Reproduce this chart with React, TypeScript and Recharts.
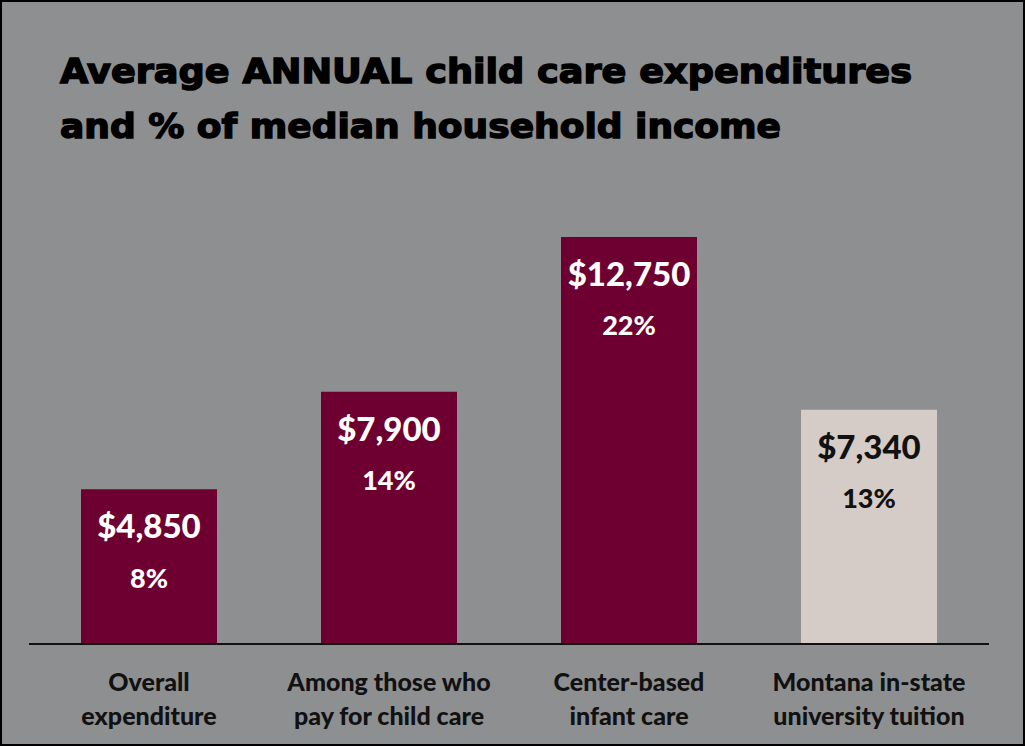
import React from 'react';
import { BarChart, Bar, XAxis, YAxis, Cell, LabelList } from 'recharts';

const categories = [
  ['Overall', 'expenditure'],
  ['Among those who', 'pay for child care'],
  ['Center-based', 'infant care'],
  ['Montana in-state', 'university tuition'],
];
const amounts = [4850, 7900, 12750, 7340];
const amountLabels = ['$4,850', '$7,900', '$12,750', '$7,340'];
const pctLabels = ['8%', '14%', '22%', '13%'];
const titleLines = ['Average ANNUAL child care expenditures', 'and % of median household income'];
const titleWidths = [852, 721];

const MAROON = '#6d0030';
const TUITION = '#d6ccc7';
const BG = '#8e8f91';
const FONT = "Lato, 'Open Sans', sans-serif";

const data = amounts.map((v, i) => ({
  name: categories[i].join(' '),
  idx: i,
  value: v,
}));

const CategoryTick = (props: any) => {
  const { x, payload } = props;
  const lines = categories[payload.index] || [];
  return (
    <g>
      {lines.map((l, i) => (
        <text
          key={i}
          x={x}
          y={681 + i * 34}
          textAnchor="middle"
          dominantBaseline="central"
          fill="#111"
          fontFamily={FONT}
          fontWeight={900}
          fontSize={25}
        >
          {l}
        </text>
      ))}
    </g>
  );
};

const BarLabel = (props: any) => {
  const { x, y, width, index } = props;
  const cx = x + width / 2;
  const color = index === 3 ? '#111' : '#fff';
  return (
    <g>
      <text
        x={cx}
        y={y + 36}
        textAnchor="middle"
        dominantBaseline="central"
        fill={color}
        fontFamily={FONT}
        fontWeight={900}
        fontSize={33}
      >
        {amountLabels[index]}
      </text>
      <text
        x={cx}
        y={y + 88}
        textAnchor="middle"
        dominantBaseline="central"
        fill={color}
        fontFamily={FONT}
        fontWeight={900}
        fontSize={27}
      >
        {pctLabels[index]}
      </text>
    </g>
  );
};

export default function App() {
  return (
    <div
      style={{
        position: 'absolute',
        left: 0,
        top: 0,
        width: 1025,
        height: 746,
        background: BG,
        border: '2px solid #000',
        boxSizing: 'border-box',
      }}
    >
      <svg
        width={1025}
        height={746}
        style={{ position: 'absolute', left: -2, top: -2 }}
      >
        {titleLines.map((t, i) => (
          <text
            key={i}
            x={60}
            y={83 + i * 55}
            fill="#000"
            stroke="#000"
            strokeWidth={1.4}
            fontFamily="'DejaVu Sans', sans-serif"
            fontWeight={700}
            fontSize={33}
            textLength={titleWidths[i]}
            lengthAdjust="spacingAndGlyphs"
          >
            {t}
          </text>
        ))}
      </svg>
      <div style={{ position: 'absolute', left: -2, top: -2 }}>
        <BarChart
          width={1025}
          height={746}
          data={data}
          margin={{ top: 197, right: 36, bottom: 0, left: 29 }}
          barCategoryGap={52}
        >
          <XAxis
            dataKey="name"
            height={102}
            axisLine={{ stroke: '#111', strokeWidth: 2 }}
            tickLine={false}
            tick={<CategoryTick />}
            interval={0}
          />
          <YAxis hide domain={[0, 14000]} />
          <Bar dataKey="value" isAnimationActive={false}>
            {data.map((d, i) => (
              <Cell key={i} fill={i === 3 ? TUITION : MAROON} />
            ))}
            <LabelList dataKey="value" content={<BarLabel />} />
          </Bar>
        </BarChart>
      </div>
    </div>
  );
}
